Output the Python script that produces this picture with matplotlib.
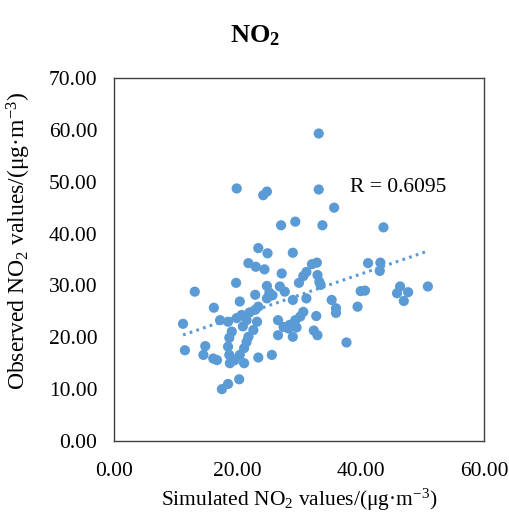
"""Simulated vs observed NO2 scatter with linear trend line."""
import numpy as np
import matplotlib
matplotlib.use("Agg")
import matplotlib.pyplot as plt

# simulated (x) / observed (y) NO2
sim_no2 = [
    33.2, 19.9, 24.2, 24.8, 33.2, 35.7, 27.1, 29.4, 33.8, 43.7,
    23.4, 24.9, 29.0, 21.8, 23.0, 24.4, 27.2, 19.8, 13.1, 24.8,
    25.2, 26.9, 27.7, 22.9, 20.4, 24.8, 23.4, 22.9, 16.2, 11.2,
    17.2, 18.5, 19.9, 20.7, 21.5, 23.2, 22.6, 21.8, 21.5, 21.1,
    20.4, 19.6, 18.8, 21.1, 18.5, 18.7, 14.8, 14.5, 16.1, 16.7,
    11.5, 23.4, 25.6, 20.3, 18.5, 17.5, 26.6, 26.6, 28.3, 27.5,
    32.1, 32.9, 31.2, 30.7, 30.0, 33.0, 33.3, 33.5, 29.0, 31.2,
    35.3, 36.0, 36.0, 39.5, 40.0, 40.7, 41.2, 43.2, 43.1, 46.4,
    45.9, 47.7, 47.0, 50.9, 37.7, 32.8, 32.4, 33.0, 29.0, 30.7,
    30.2, 29.4, 28.5, 29.6, 25.7, 19.1, 20.9, 18.7, 22.0,
]
obs_no2 = [
    59.3, 48.7, 47.4, 48.1, 48.5, 45.0, 41.6, 42.3, 41.6, 41.2,
    37.2, 36.2, 36.3, 34.3, 33.6, 33.1, 32.3, 30.5, 28.8, 29.9,
    28.6, 29.8, 28.8, 28.2, 26.9, 27.5, 25.9, 25.3, 25.7, 22.6,
    23.3, 23.0, 23.7, 24.3, 23.3, 23.0, 21.4, 20.1, 19.1, 17.9,
    16.6, 15.6, 15.0, 15.0, 18.2, 16.6, 18.3, 16.6, 15.9, 15.6,
    17.5, 16.1, 16.6, 11.9, 11.0, 10.0, 23.3, 20.4, 21.7, 22.0,
    34.1, 34.4, 32.6, 31.8, 30.5, 32.0, 30.7, 30.1, 27.2, 27.5,
    27.2, 25.6, 24.7, 25.9, 28.9, 29.0, 34.3, 34.4, 32.8, 29.8,
    28.5, 28.7, 27.0, 29.8, 19.0, 24.1, 21.3, 20.4, 20.1, 24.9,
    24.0, 23.3, 22.4, 21.9, 28.1, 21.1, 22.1, 19.9, 24.8,
]
r_label = "R = 0.6095"
x_ticks = [0, 20, 40, 60]
y_ticks = [0, 10, 20, 30, 40, 50, 60, 70]

BLUE = "#5B9BD5"

plt.rcParams["font.family"] = "Liberation Serif"
plt.rcParams["mathtext.fontset"] = "custom"
plt.rcParams["mathtext.rm"] = "Liberation Serif"
plt.rcParams["mathtext.it"] = "Liberation Serif:italic"
plt.rcParams["mathtext.bf"] = "Liberation Serif:bold"


def main():
    x = np.array(sim_no2)
    y = np.array(obs_no2)

    fig = plt.figure(figsize=(5.1, 5.15), dpi=100)
    ax = fig.add_axes([0.2235, 0.1437, 0.7255, 0.7048])

    ax.scatter(x, y, s=54, color=BLUE, edgecolors="none", zorder=3)

    # linear trend over the data range
    k, b = np.polyfit(x, y, 1)
    xx = np.array([x.min(), x.max()])
    ax.plot(xx, k * xx + b, color=BLUE, lw=2.2, ls=(0, (0.9, 1.4)),
            zorder=2)

    ax.text(38.3, 48.8, r_label, fontsize=15.5, va="center", ha="left")

    ax.set_xlim(0, 60)
    ax.set_ylim(0, 70)
    ax.set_xticks(x_ticks)
    ax.set_yticks(y_ticks)
    ax.set_xticklabels([f"{v:.2f}" for v in x_ticks])
    ax.set_yticklabels([f"{v:.2f}" for v in y_ticks])
    ax.tick_params(length=0, labelsize=15.5)
    ax.tick_params(axis="x", pad=15)
    ax.tick_params(axis="y", pad=12)
    for sp in ax.spines.values():
        sp.set_color("#404040")
        sp.set_linewidth(1.0)

    ax.set_xlabel(r"Simulated NO$_2$ values/(μg·m$^{-3}$)", fontsize=15.5,
                  labelpad=4)
    ax.set_ylabel(r"Observed NO$_2$ values/(μg·m$^{-3}$)", fontsize=17)
    ax.yaxis.set_label_coords(-0.22, 0.55)
    fig.text(0.5, 0.93, r"NO$_\mathbf{2}$", fontsize=19, fontweight="bold",
             ha="center", va="center")

    fig.savefig("out.png", dpi=100)
    plt.close(fig)


if __name__ == "__main__":
    main()
